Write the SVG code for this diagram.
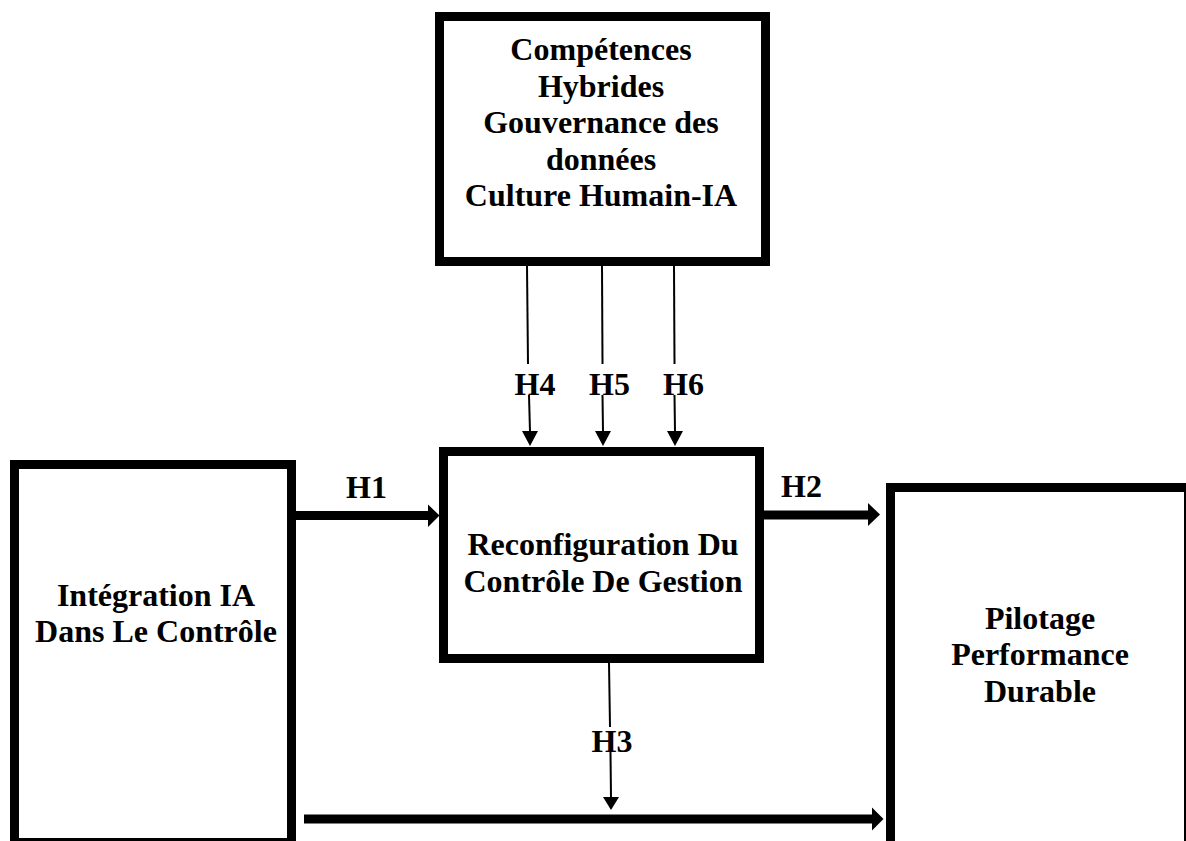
<svg xmlns="http://www.w3.org/2000/svg" width="1186" height="841" viewBox="0 0 1186 841">
<style>
.box{fill:#fff;stroke:#000;stroke-width:9}
.t{font-family:"Liberation Serif","Times New Roman",serif;font-weight:bold;font-size:32px;fill:#000;text-anchor:middle}
.thin{stroke:#000;stroke-width:2;fill:none}
.thick{stroke:#000;stroke-width:9;fill:none}
.head{fill:#000}
</style>
<rect width="1186" height="841" fill="#fff"/>
<g id="node-competences">
<rect class="box" x="439.5" y="16.5" width="326" height="245"/>
<text class="t" x="601" y="60">Compétences</text>
<text class="t" x="601" y="96.5">Hybrides</text>
<text class="t" x="601" y="133">Gouvernance des</text>
<text class="t" x="601" y="169.5">données</text>
<text class="t" x="601" y="206">Culture Humain-IA</text>
</g>
<g id="node-reconfiguration">
<rect class="box" x="443.5" y="451.5" width="316" height="207"/>
<text class="t" x="603" y="555">Reconfiguration Du</text>
<text class="t" x="603" y="592">Contrôle De Gestion</text>
</g>
<g id="node-integration">
<rect class="box" x="14.5" y="464.5" width="277" height="378"/>
<text class="t" x="156" y="606">Intégration IA</text>
<text class="t" x="156" y="642">Dans Le Contrôle</text>
</g>
<g id="node-pilotage">
<rect class="box" x="890.5" y="487.5" width="298" height="370"/>
<text class="t" x="1040" y="629">Pilotage</text>
<text class="t" x="1040" y="665">Performance</text>
<text class="t" x="1040" y="702">Durable</text>
</g>
<g id="connectors">
<line class="thin" x1="527" y1="266" x2="528" y2="364"/>
<line class="thin" x1="529" y1="395" x2="530" y2="432"/>
<polygon class="head" points="522,431 538,431 530,446"/>
<line class="thin" x1="602" y1="266" x2="602.5" y2="364"/>
<line class="thin" x1="602.5" y1="395" x2="603" y2="432"/>
<polygon class="head" points="595,431 611,431 603,446"/>
<line class="thin" x1="674" y1="266" x2="674.5" y2="364"/>
<line class="thin" x1="674.5" y1="395" x2="675" y2="432"/>
<polygon class="head" points="667,431 683,431 675,446"/>
<line class="thin" x1="609" y1="663" x2="610" y2="727"/>
<line class="thin" x1="610.5" y1="752" x2="611" y2="798"/>
<polygon class="head" points="603,797 619,797 611,810"/>
<line class="thick" x1="296" y1="515.5" x2="429" y2="515.5"/>
<polygon class="head" points="428,504.5 439.5,515.5 428,527"/>
<line class="thick" x1="764" y1="515" x2="869" y2="515"/>
<polygon class="head" points="868,503 880,514.5 868,526"/>
<line class="thick" x1="304" y1="819" x2="873" y2="819"/>
<polygon class="head" points="872,807.5 883.5,819 872,830.5"/>
<text class="t" x="535" y="395">H4</text>
<text class="t" x="609.5" y="395">H5</text>
<text class="t" x="683.5" y="395">H6</text>
<text class="t" x="366.5" y="498">H1</text>
<text class="t" x="801.5" y="497">H2</text>
<text class="t" x="612" y="752">H3</text>
</g>
</svg>
